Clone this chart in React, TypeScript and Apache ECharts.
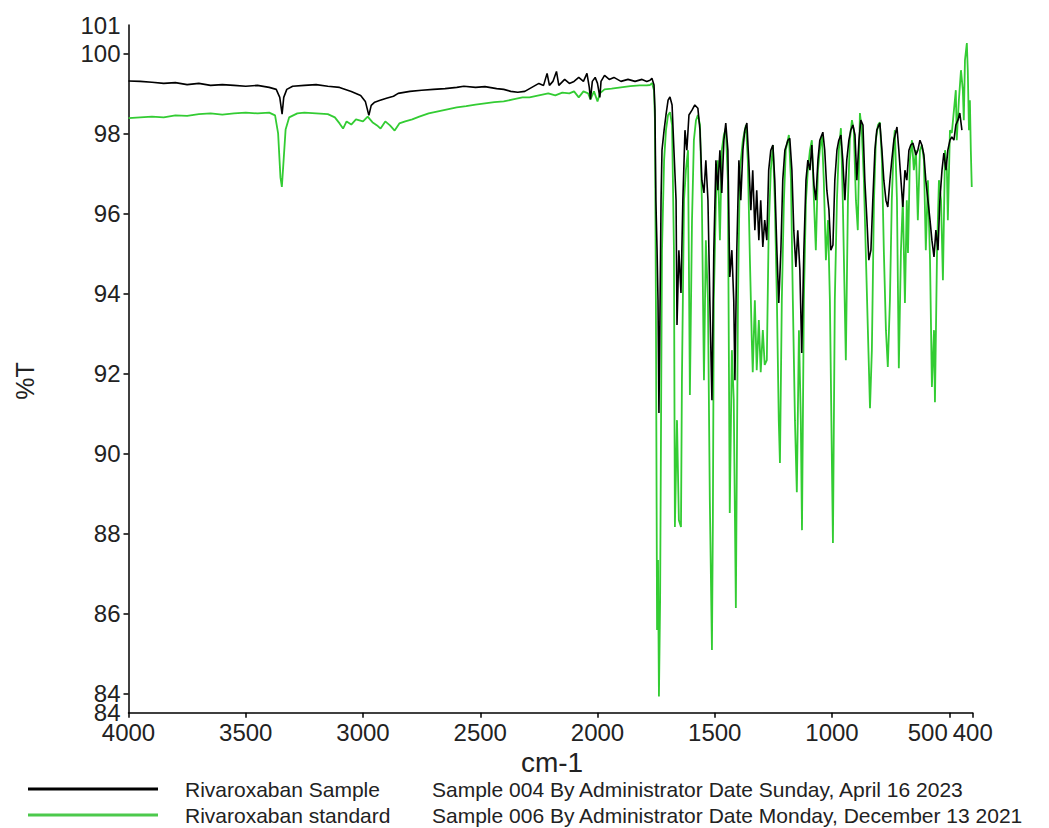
import React, { useEffect, useRef } from "react";
import * as echarts from "echarts";

// Rivaroxaban Sample (black)
const sampleWavenumber = [
  4000, 3950, 3900, 3850, 3800, 3750, 3700, 3650, 3600, 3550, 3500, 3450, 3400, 3370, 3355, 3345, 3338, 3325, 3300, 3250,
  3200, 3150, 3100, 3050, 3010, 2990, 2975, 2965, 2950, 2930, 2900, 2870, 2850, 2800, 2750, 2700, 2650, 2600, 2570, 2520,
  2480, 2430, 2400, 2370, 2340, 2310, 2280, 2250, 2230, 2215, 2205, 2190, 2175, 2165, 2140, 2120, 2100, 2080, 2060, 2045,
  2035, 2030, 2022, 2010, 2000, 1990, 1985, 1970, 1950, 1930, 1900, 1870, 1840, 1810, 1790,
  1776, 1768, 1759, 1755, 1751, 1746, 1742, 1738, 1733, 1729, 1725, 1716, 1708, 1699, 1691, 1682, 1674, 1665, 1661, 1653,
  1644, 1636, 1627, 1619, 1610, 1597, 1585, 1572, 1563, 1555, 1546, 1538, 1529, 1521, 1512, 1504, 1495, 1487, 1478, 1470,
  1461, 1453, 1444, 1436, 1427, 1419, 1414, 1406, 1397, 1389, 1380, 1372, 1363, 1355, 1346, 1338, 1329, 1321, 1312, 1304,
  1295, 1287, 1278, 1270, 1261, 1252, 1244, 1235, 1227, 1218, 1210, 1201, 1188, 1180, 1171, 1163, 1154, 1146, 1137, 1129,
  1120, 1111, 1103, 1094, 1086, 1077, 1069, 1060, 1052, 1039, 1031, 1022, 1013, 1005, 996, 988, 979, 971, 962, 954,
  945, 937, 928, 920, 911, 902, 894, 885, 877, 868, 860, 851, 843, 834, 826, 817, 809, 796, 787, 779,
  770, 762, 753, 745, 736, 723, 715, 706, 698, 689, 681, 672, 664, 655, 642, 634, 625, 617, 608, 600,
  591, 582, 574, 565, 557, 548, 540, 531, 523, 514, 506, 497, 489, 480, 472, 463, 455, 446,
];
const sampleTransmittance = [
  99.31, 99.3, 99.28, 99.25, 99.27, 99.22, 99.25, 99.2, 99.22, 99.2, 99.18, 99.2, 99.15, 99.1, 98.9, 98.48, 98.9, 99.1, 99.18, 99.2,
  99.22, 99.18, 99.15, 99.05, 98.95, 98.8, 98.45, 98.7, 98.78, 98.82, 98.88, 98.93, 99.0, 99.05, 99.08, 99.1, 99.12, 99.15, 99.18, 99.15,
  99.17, 99.12, 99.1, 99.05, 99.03, 99.05, 99.15, 99.25, 99.2, 99.5, 99.2, 99.3, 99.55, 99.2, 99.35, 99.25, 99.3, 99.4, 99.3, 99.5,
  99.15, 98.85, 99.3, 99.4, 99.25, 98.9, 99.3, 99.45, 99.35, 99.4, 99.3, 99.35, 99.3, 99.35, 99.3,
  99.33, 99.38, 99.21, 98.58, 96.33, 95.08, 93.83, 91.01, 93.83, 96.33, 97.58, 98.08, 98.46, 98.83, 98.91, 98.71, 97.58, 96.33, 93.21, 95.08,
  94.01, 96.33, 98.08, 97.58, 98.46, 98.58, 98.71, 98.63, 98.08, 96.83, 96.51, 97.33, 96.33, 93.83, 91.33, 95.08, 97.33, 96.58, 97.58, 96.51,
  97.83, 98.26, 97.58, 94.41, 95.08, 93.83, 91.83, 95.08, 97.33, 96.33, 97.58, 98.08, 98.26, 97.33, 96.08, 97.08, 95.58, 96.58, 95.33, 96.33,
  95.16, 95.83, 95.33, 97.08, 97.58, 97.71, 96.83, 95.08, 93.76, 95.08, 96.83, 97.58, 97.83, 97.88, 97.08, 95.58, 94.66, 95.58, 94.58, 92.51,
  95.08, 96.83, 97.33, 97.08, 97.71, 96.71, 96.33, 97.33, 97.83, 98.03, 97.58, 96.58, 96.08, 95.08, 95.21, 96.83, 97.58, 97.83, 97.96, 97.33,
  96.33, 97.33, 97.83, 98.08, 98.21, 97.96, 96.83, 97.83, 98.33, 98.21, 96.83, 95.83, 94.83, 95.08, 96.33, 97.58, 98.08, 98.26, 97.58, 96.83,
  96.33, 96.16, 96.83, 97.33, 97.83, 98.16, 97.58, 96.83, 96.16, 97.08, 96.83, 97.58, 97.71, 97.76, 97.46, 97.58, 97.83, 97.71, 97.46, 96.83,
  96.33, 95.83, 95.33, 94.91, 95.58, 95.08, 96.33, 97.08, 97.51, 97.08, 97.58, 97.83, 97.91, 97.83, 98.21, 98.33, 98.51, 98.08,
];

// Rivaroxaban standard (green)
const standardWavenumber = [
  4000, 3950, 3900, 3850, 3800, 3750, 3700, 3650, 3600, 3550, 3500, 3450, 3400, 3375, 3362, 3352, 3346, 3340, 3330, 3315,
  3280, 3250, 3200, 3150, 3120, 3100, 3085, 3070, 3050, 3030, 3000, 2980, 2960, 2940, 2925, 2905, 2885, 2865, 2845, 2820,
  2790, 2760, 2720, 2680, 2640, 2600, 2560, 2520, 2480, 2440, 2400, 2360, 2320, 2290, 2250, 2210, 2180, 2150, 2120, 2100,
  2080, 2060, 2040, 2030, 2015, 2000, 1990, 1970, 1940, 1900, 1860, 1820, 1790,
  1776, 1768, 1759, 1755, 1751, 1746, 1742, 1738, 1733, 1729, 1725, 1716, 1708, 1699, 1691, 1682, 1674, 1670, 1661, 1653,
  1644, 1640, 1631, 1623, 1614, 1606, 1597, 1589, 1580, 1572, 1563, 1555, 1546, 1538, 1529, 1521, 1512, 1508, 1504, 1495,
  1487, 1478, 1470, 1461, 1453, 1444, 1436, 1427, 1419, 1410, 1401, 1393, 1380, 1367, 1359, 1350, 1342, 1338, 1329, 1321,
  1312, 1304, 1295, 1287, 1278, 1270, 1261, 1252, 1244, 1235, 1227, 1222, 1214, 1205, 1197, 1184, 1175, 1167, 1158, 1150,
  1141, 1133, 1128, 1120, 1111, 1103, 1094, 1086, 1077, 1069, 1060, 1052, 1043, 1035, 1026, 1017, 1009, 1000, 996, 988,
  979, 971, 962, 954, 941, 932, 924, 915, 907, 898, 890, 881, 873, 864, 855, 847, 838, 830, 821, 813,
  804, 796, 787, 779, 770, 762, 753, 745, 736, 732, 723, 715, 706, 698, 689, 681, 676, 668, 659, 651,
  642, 634, 625, 617, 608, 600, 591, 582, 574, 565, 561, 552, 544, 535, 527, 518, 510, 506, 497, 489,
  480, 472, 468, 459, 450, 442, 438, 433, 425, 421, 416, 412, 408, 404,
];
const standardTransmittance = [
  98.38, 98.4, 98.42, 98.4, 98.45, 98.44, 98.48, 98.5, 98.47, 98.5, 98.52, 98.5, 98.52, 98.45, 98.0, 96.9, 96.66, 97.2, 98.1, 98.4,
  98.5, 98.52, 98.5, 98.48, 98.4, 98.25, 98.12, 98.3, 98.22, 98.35, 98.3, 98.42, 98.28, 98.2, 98.12, 98.3, 98.2, 98.07, 98.25, 98.3,
  98.35, 98.42, 98.5, 98.55, 98.6, 98.65, 98.68, 98.72, 98.75, 98.78, 98.8, 98.85, 98.9, 98.9, 98.95, 99.0, 98.95, 99.02, 99.0, 99.05,
  98.9, 99.05, 99.0, 98.85, 99.05, 98.8, 99.0, 99.1, 99.12, 99.15, 99.18, 99.2, 99.2,
  99.21, 99.26, 99.08, 98.33, 93.83, 85.58, 87.33, 83.92, 86.33, 90.83, 95.08, 97.33, 98.08, 98.46, 98.53, 98.21, 95.08, 88.16, 90.83, 88.33,
  88.16, 91.83, 96.33, 97.08, 97.58, 91.46, 95.83, 97.83, 98.33, 98.46, 98.21, 96.33, 91.83, 95.33, 93.83, 88.83, 85.08, 88.33, 93.83, 96.33,
  97.33, 95.33, 97.58, 97.96, 98.13, 96.83, 88.51, 92.58, 91.33, 86.13, 93.83, 97.08, 97.83, 98.21, 97.33, 94.83, 92.83, 92.03, 93.83, 92.08,
  93.33, 92.03, 93.08, 92.21, 92.33, 95.58, 97.08, 97.71, 96.33, 93.83, 90.83, 89.76, 93.83, 96.33, 97.58, 97.96, 96.83, 93.83, 90.83, 89.03,
  93.08, 90.83, 88.08, 93.83, 96.33, 97.08, 97.58, 97.83, 96.33, 95.08, 97.08, 97.58, 97.96, 96.83, 94.83, 95.83, 93.83, 89.58, 87.76, 93.83,
  96.33, 97.58, 98.13, 96.33, 92.33, 96.33, 97.83, 98.33, 98.08, 96.33, 95.58, 98.51, 98.08, 96.83, 94.83, 93.08, 91.13, 92.58, 96.33, 97.83,
  98.21, 98.28, 97.33, 95.08, 93.08, 92.16, 93.83, 96.33, 97.83, 98.08, 96.33, 92.13, 95.08, 96.33, 93.76, 96.33, 95.01, 97.33, 97.83, 97.08,
  97.58, 95.83, 97.58, 97.71, 97.33, 95.08, 96.83, 94.83, 91.66, 93.08, 91.28, 95.08, 96.83, 96.33, 94.33, 97.58, 97.08, 95.83, 98.08, 98.01,
  98.58, 99.08, 97.83, 98.83, 99.58, 99.08, 98.33, 99.83, 100.26, 99.58, 98.08, 98.83, 97.58, 96.66,
];

const seriesNames = ["Rivaroxaban Sample", "Rivaroxaban standard"];
const seriesInfo = [
  "Sample 004 By Administrator Date Sunday, April 16 2023",
  "Sample 006 By Administrator Date Monday, December 13 2021",
];
const seriesColors = ["#000000", "#33cc33"];

const xMin = 400;
const xMax = 4000;
const yMin = 83.515;
const yMax = 100.71;

const FONT = "'Liberation Sans', Arial, Helvetica, sans-serif";

export default function App() {
  const ref = useRef<HTMLDivElement>(null);

  useEffect(() => {
    if (!ref.current) return;
    const chart = echarts.init(ref.current, null, { renderer: "svg" });

    const sampleData = sampleWavenumber.map((w, i) => [w, sampleTransmittance[i]]);
    const standardData = standardWavenumber.map((w, i) => [w, standardTransmittance[i]]);

    const legendRows = [789, 815];

    const isExtent = (v: number) => Math.abs(v - yMin) < 1e-6 || Math.abs(v - yMax) < 1e-6;

    const yBase = {
      type: "value",
      position: "left",
      min: yMin,
      max: yMax,
      splitNumber: 8,
      minInterval: 2,
      maxInterval: 2,
      splitLine: { show: false },
    };

    chart.setOption({
      animation: false,
      backgroundColor: "#ffffff",
      textStyle: { fontFamily: FONT },
      grid: { left: 128.5, right: 76.3, top: 25, bottom: 115.3, containLabel: false, outerBoundsMode: "none" },
      xAxis: {
        type: "value",
        inverse: true,
        min: xMin,
        max: xMax,
        splitNumber: 7,
        minInterval: 500,
        maxInterval: 500,
        splitLine: { show: false },
        axisLine: { show: true, onZero: false, lineStyle: { color: "#000", width: 1.5 } },
        axisTick: { show: true, inside: false, length: 5, lineStyle: { color: "#000", width: 1.5 } },
        axisLabel: {
          show: true,
          showMinLabel: true,
          showMaxLabel: true,
          fontSize: 24,
          color: "#222",
          margin: 8,
          fontFamily: FONT,
          formatter: (v: number) => (v === 500 ? "{s|500}" : String(v)),
          rich: { s: { fontSize: 24, color: "#222", fontFamily: FONT, padding: [0, 43, 0, 0] } },
        },
      },
      yAxis: [
        {
          ...yBase,
          axisLine: { show: true, onZero: false, lineStyle: { color: "#000", width: 1.5 } },
          axisTick: { show: true, inside: false, length: 5, lineStyle: { color: "#000", width: 1.5 } },
          axisLabel: {
            show: true,
            showMinLabel: false,
            showMaxLabel: false,
            fontSize: 24,
            lineHeight: 18,
            color: "#222",
            margin: 8,
            fontFamily: FONT,
            formatter: (v: number) => (isExtent(v) ? "" : String(Math.round(v))),
          },
        },
        {
          ...yBase,
          axisLine: { show: false },
          axisTick: { show: false },
          axisLabel: {
            show: true,
            showMinLabel: true,
            showMaxLabel: true,
            fontSize: 24,
            lineHeight: 18,
            color: "#222",
            margin: 8,
            fontFamily: FONT,
            formatter: (v: number) => (isExtent(v) ? String(Math.round(v)) : ""),
          },
        },
      ],
      series: [
        {
          name: seriesNames[1],
          type: "line",
          yAxisIndex: 0,
          data: standardData,
          symbol: "none",
          lineStyle: { color: seriesColors[1], width: 1.8 },
          itemStyle: { color: seriesColors[1] },
          z: 2,
        },
        {
          name: seriesNames[0],
          type: "line",
          yAxisIndex: 0,
          data: sampleData,
          symbol: "none",
          lineStyle: { color: seriesColors[0], width: 1.6 },
          itemStyle: { color: seriesColors[0] },
          z: 3,
        },
      ],
      graphic: [
        {
          type: "text",
          x: 25,
          y: 381,
          rotation: Math.PI / 2,
          style: { text: "%T", fontSize: 25, fill: "#222", fontFamily: FONT, align: "center", verticalAlign: "middle" },
        },
        {
          type: "text",
          x: 552,
          y: 762,
          style: { text: "cm-1", fontSize: 28, fill: "#222", fontFamily: FONT, align: "center", verticalAlign: "middle" },
        },
        ...[0, 1].flatMap((i) => [
          {
            type: "line",
            shape: { x1: 28, y1: legendRows[i], x2: 158, y2: legendRows[i] },
            style: { stroke: i === 0 ? "#000" : "#4cc94c", lineWidth: 3 },
          },
          {
            type: "text",
            x: 185,
            y: legendRows[i],
            style: { text: seriesNames[i], fontSize: 21, fill: "#222", fontFamily: FONT, verticalAlign: "middle" },
          },
          {
            type: "text",
            x: 432,
            y: legendRows[i],
            style: { text: seriesInfo[i], fontSize: 21, fill: "#222", fontFamily: FONT, verticalAlign: "middle" },
          },
        ]),
      ],
    });

    return () => chart.dispose();
  }, []);

  return (
    <div
      ref={ref}
      style={{ position: "absolute", left: 0, top: 0, width: 1049, height: 828, background: "#fff" }}
    />
  );
}
